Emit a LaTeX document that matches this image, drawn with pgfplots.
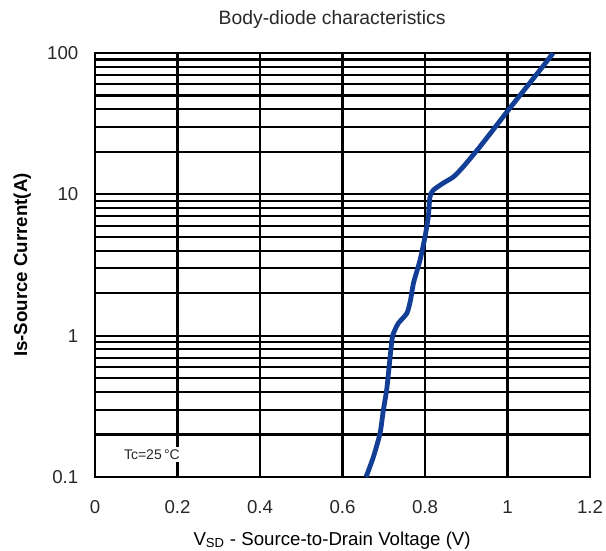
\documentclass[border=0pt]{standalone}
\usepackage{fontspec}
\setmainfont{Liberation Sans}
\usepackage{pgfplots}
\pgfplotsset{compat=1.18}
\definecolor{curveblue}{RGB}{18,62,150}
\definecolor{ticklab}{RGB}{40,40,40}
\begin{document}
\begin{tikzpicture}[x=0.75pt,y=0.75pt]
\path[use as bounding box] (0,0) rectangle (606,550);
\begin{axis}[
  at={(95*0.75pt,73*0.75pt)}, anchor=south west,
  scale only axis,
  width=371.25pt, height=318pt,
  xmin=0, xmax=1.2,
  ymode=log, ymin=0.1, ymax=100,
  log basis y=10,
  xtick={0,0.2,0.4,0.6,0.8,1,1.2},
  xticklabels={0,0.2,0.4,0.6,0.8,1,1.2},
  ytick={0.1,1,10,100},
  yticklabels={0.1,1,10,100},
  minor ytick={0.2,0.3,0.4,0.5,0.6,0.7,0.8,0.9,2,3,4,5,6,7,8,9,20,30,40,50,60,70,80,90},
  major tick length=0pt, minor tick length=0pt,
  grid=both,
  xmajorgrids=true,
  major grid style={black, line width=1.7pt},
  minor grid style={black, line width=1.6pt},
  axis line style={black, line width=2.2pt},
  tick label style={font=\fontsize{14}{16}\selectfont, text=ticklab},
  xticklabel style={yshift=-14pt},
  yticklabel style={xshift=-9pt},
  every axis title shift=0pt,
  title={Body-diode characteristics},
  title style={at={(axis description cs:0.479,1.078)}, anchor=center, font=\fontsize{14.5}{16}\selectfont, text=ticklab},
  xlabel={V\textsubscript{SD} - Source-to-Drain Voltage (V)},
  xlabel style={at={(axis description cs:0.479,-0.149)}, anchor=center, font=\fontsize{14}{16}\selectfont},
  ylabel={Is-Source Current(A)},
  ylabel style={at={(axis description cs:-0.147,0.5)}, anchor=center, rotate=0, font=\bfseries\fontsize{14}{16}\selectfont},
  clip=false,
]
\addplot[curveblue, line width=3.6pt, smooth, tension=0.4] coordinates {
  (0.657,0.1) (0.675,0.139) (0.691,0.204) (0.699,0.297) (0.707,0.412)
  (0.713,0.603) (0.718,0.836) (0.722,1.01) (0.735,1.22) (0.756,1.44)
  (0.765,1.79) (0.772,2.35) (0.788,3.43) (0.800,5.01) (0.808,6.95)
  (0.812,9.6) (0.820,10.7) (0.844,12.0) (0.869,13.3) (0.893,15.7)
  (0.933,21.7) (0.974,30.9) (1.002,39.5) (1.047,57.8) (1.079,75.9)
  (1.107,96.8) (1.110,100)
};
\node[fill=white, inner sep=2pt, font=\fontsize{10.5}{12}\selectfont, text=ticklab] at (axis cs:0.138,0.145) {Tc=25\,°C};
\end{axis}
\end{tikzpicture}
\end{document}
